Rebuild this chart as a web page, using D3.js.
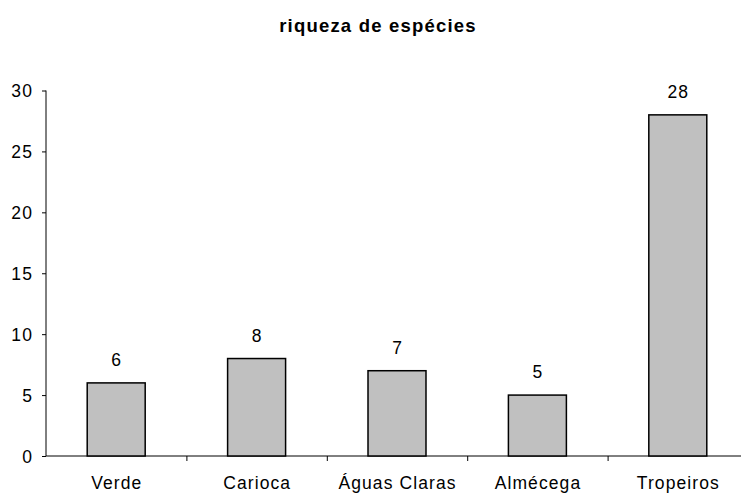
<!DOCTYPE html>
<html><head><meta charset="utf-8">
<script src="https://cdn.jsdelivr.net/npm/d3@7"></script>
<style>body{margin:0;background:#fff}svg{display:block}text{font-family:"Liberation Sans",Arial,sans-serif}</style>
</head><body>
<script>
const categories = ["Verde","Carioca","Águas Claras","Almécega","Tropeiros"];
const values = [6,8,7,5,28];
const yTicks = [0,5,10,15,20,25,30];
const title = "riqueza de espécies";

const W=741,H=493;
const FS=17.5, LS=1.1;
const svg=d3.select("body").append("svg").attr("width",W).attr("height",H);
const x0=46, bandW=140.4;
const x=d3.scaleBand().domain(categories).range([x0,x0+bandW*5]).paddingInner(0.587).paddingOuter(0.2935);
const y=d3.scaleLinear().domain([0,30]).range([456,90.5]);

svg.append("text").attr("x",378).attr("y",32).attr("text-anchor","middle")
  .attr("font-size",18.5).attr("letter-spacing",1.2).attr("font-weight","bold").text(title);

// y axis
const ya=svg.append("g").attr("transform",`translate(${x0},0)`)
  .call(d3.axisLeft(y).tickValues(yTicks).tickSize(4).tickPadding(9));
ya.select(".domain").attr("stroke","#000").attr("d",`M0,${y(30)}V${y(0)}`);
ya.selectAll(".tick line").attr("stroke","#000");
ya.selectAll(".tick text").attr("font-size",FS).attr("letter-spacing",LS).attr("fill","#000")
  .attr("font-family","Liberation Sans, Arial, sans-serif").attr("dy","0.35em");

// x axis
const xb=d3.scaleLinear().domain([0,5]).range([x0,x0+bandW*5]);
const xa=svg.append("g").attr("transform",`translate(0,${y(0)})`)
  .call(d3.axisBottom(xb).tickValues([1,2,3,4]).tickSize(5).tickFormat(""));
xa.select(".domain").attr("stroke","#000").attr("d",`M${x0},0H${W+10}`);
xa.selectAll(".tick line").attr("stroke","#000");

svg.selectAll("text.cat").data(categories).join("text").attr("class","cat")
  .attr("x",d=>x(d)+x.bandwidth()/2+LS/2).attr("y",489).attr("text-anchor","middle")
  .attr("font-size",FS).attr("letter-spacing",LS).text(d=>d);

svg.selectAll("rect.bar").data(values).join("rect").attr("class","bar")
  .attr("x",(d,i)=>x(categories[i])).attr("width",x.bandwidth())
  .attr("y",d=>y(d)).attr("height",d=>y(0)-y(d))
  .attr("fill","#c0c0c0").attr("stroke","#000").attr("stroke-width",1.5);

svg.selectAll("text.val").data(values).join("text").attr("class","val")
  .attr("x",(d,i)=>x(categories[i])+x.bandwidth()/2+LS/2).attr("y",d=>y(d)-17)
  .attr("text-anchor","middle").attr("font-size",FS).attr("letter-spacing",LS).text(d=>d);
</script>
</body></html>
